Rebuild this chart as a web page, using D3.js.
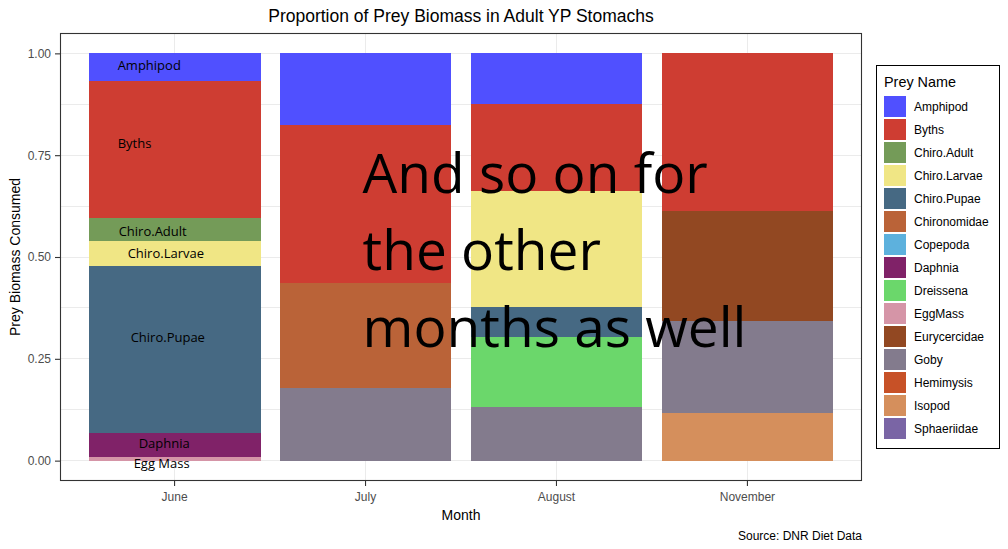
<!DOCTYPE html>
<html>
<head>
<meta charset="utf-8">
<script src="https://cdn.jsdelivr.net/npm/d3@7"></script>
<style>
  html, body { margin: 0; padding: 0; background: #ffffff; }
  svg { display: block; }
</style>
</head>
<body>
<script>
// ---------------- DATA ----------------
const months = ["June", "July", "August", "November"];
const preyNames = ["Amphipod", "Byths", "Chiro.Adult", "Chiro.Larvae", "Chiro.Pupae",
  "Chironomidae", "Copepoda", "Daphnia", "Dreissena", "EggMass",
  "Eurycercidae", "Goby", "Hemimysis", "Isopod", "Sphaeriidae"];
const preyColors = ["#5050FF", "#CE3D32", "#749B58", "#F0E685", "#466983",
  "#BA6338", "#5DB1DD", "#802268", "#6BD76B", "#D595A7",
  "#924822", "#837B8D", "#C75127", "#D58F5C", "#7A65A5"];
// proportions per month, aligned with preyNames
const juneValues     = [0.069, 0.336, 0.0545, 0.0615, 0.412, 0, 0, 0.059, 0, 0.008, 0, 0, 0, 0, 0];
const julyValues     = [0.177, 0.386, 0, 0, 0, 0.258, 0, 0, 0, 0, 0, 0.179, 0, 0, 0];
const augustValues   = [0.125, 0.214, 0, 0.283, 0.075, 0, 0, 0, 0.172, 0, 0, 0.131, 0, 0, 0];
const novemberValues = [0, 0.386, 0, 0, 0, 0, 0, 0, 0, 0, 0.270, 0.228, 0, 0.116, 0];
const yTicks = [0, 0.25, 0.5, 0.75, 1];
const yMinorTicks = [0.125, 0.375, 0.625, 0.875];
// annotation labels on the June bar (text, y position in data units)
const juneLabelText = ["Amphipod", "Byths", "Chiro.Adult", "Chiro.Larvae", "Chiro.Pupae", "Daphnia", "Egg Mass"];
const juneLabelY    = [0.971, 0.780, 0.563, 0.508, 0.303, 0.043, -0.007];
const juneLabelDx   = [29, 29, 30, 39, 42, 50, 45];
const noteLines = ["And so on for", "the other", "months as well"];
const noteY = [0.657, 0.4686, 0.2784];

const titleText = "Proportion of Prey Biomass in Adult YP Stomachs";
const xTitle = "Month";
const yTitle = "Prey Biomass Consumed";
const legendTitle = "Prey Name";
const caption = "Source: DNR Diet Data";

// ---------------- LAYOUT ----------------
const W = 1008, H = 549;
const panel = { left: 60, right: 862, top: 33, bottom: 481 };
const FONT = "Arial, 'Liberation Sans', Helvetica, sans-serif";

const svg = d3.select("body").append("svg")
  .attr("width", W).attr("height", H)
  .style("background", "#fff");

const x = d3.scaleBand().domain(months)
  .range([panel.left, panel.right])
  .paddingInner(0.1).paddingOuter(0.15);
const y = d3.scaleLinear().domain([-0.05, 1.05]).range([panel.bottom, panel.top]);
const color = d3.scaleOrdinal().domain(preyNames).range(preyColors);

const valuesByMonth = [juneValues, julyValues, augustValues, novemberValues];
const table = months.map((m, i) => {
  const row = { month: m };
  preyNames.forEach((p, j) => row[p] = valuesByMonth[i][j]);
  return row;
});

// grid
const grid = svg.append("g").attr("shape-rendering", "crispEdges");
grid.selectAll("line.minor").data(yMinorTicks).join("line")
  .attr("x1", panel.left).attr("x2", panel.right)
  .attr("y1", d => y(d)).attr("y2", d => y(d))
  .attr("stroke", "#ebebeb").attr("stroke-width", 1);
grid.selectAll("line.major").data(yTicks).join("line")
  .attr("x1", panel.left).attr("x2", panel.right)
  .attr("y1", d => y(d)).attr("y2", d => y(d))
  .attr("stroke", "#ebebeb").attr("stroke-width", 1);
grid.selectAll("line.vmajor").data(months).join("line")
  .attr("x1", d => x(d) + x.bandwidth() / 2).attr("x2", d => x(d) + x.bandwidth() / 2)
  .attr("y1", panel.top).attr("y2", panel.bottom)
  .attr("stroke", "#ebebeb").attr("stroke-width", 1);

// stacked bars (first prey on top, as in ggplot)
const series = d3.stack().keys(preyNames).order(d3.stackOrderReverse)(table);
svg.append("g").attr("shape-rendering", "crispEdges").selectAll("g").data(series).join("g")
  .attr("fill", d => color(d.key))
  .selectAll("rect").data(d => d).join("rect")
  .attr("x", d => x(d.data.month))
  .attr("width", x.bandwidth())
  .attr("y", d => y(d[1]))
  .attr("height", d => Math.max(0, y(d[0]) - y(d[1])));

// panel border
svg.append("rect")
  .attr("x", panel.left + 0.5).attr("y", panel.top + 0.5)
  .attr("width", panel.right - panel.left - 1).attr("height", panel.bottom - panel.top - 1)
  .attr("fill", "none").attr("stroke", "#333333").attr("stroke-width", 1.1);

// axes
const yAxis = svg.append("g").attr("transform", `translate(${panel.left},0)`)
  .call(d3.axisLeft(y).tickValues(yTicks).tickFormat(d3.format(".2f")).tickSize(5).tickPadding(4));
const xAxis = svg.append("g").attr("transform", `translate(0,${panel.bottom})`)
  .call(d3.axisBottom(x).tickSize(5).tickPadding(6));
[yAxis, xAxis].forEach(a => {
  a.select(".domain").remove();
  a.selectAll(".tick line").attr("stroke", "#333333").attr("stroke-width", 1.1);
  a.selectAll(".tick text").attr("fill", "#4d4d4d").style("font-family", FONT).style("font-size", "12px");
});

// titles
svg.append("text").attr("x", (panel.left + panel.right) / 2).attr("y", 22)
  .attr("text-anchor", "middle").style("font-family", FONT).style("font-size", "17.5px")
  .attr("fill", "#000").text(titleText);
svg.append("text").attr("x", (panel.left + panel.right) / 2).attr("y", 520)
  .attr("text-anchor", "middle").style("font-family", FONT).style("font-size", "14px")
  .attr("fill", "#000").text(xTitle);
svg.append("text").attr("transform", `translate(20,${(panel.top + panel.bottom) / 2}) rotate(-90)`)
  .attr("text-anchor", "middle").style("font-family", FONT).style("font-size", "14px")
  .attr("fill", "#000").text(yTitle);
svg.append("text").attr("x", panel.right).attr("y", 540)
  .attr("text-anchor", "end").style("font-family", FONT).style("font-size", "12px")
  .attr("fill", "#000").text(caption);

// legend
const lg = svg.append("g");
lg.append("rect").attr("x", 876.5).attr("y", 65.5).attr("width", 123).attr("height", 383)
  .attr("fill", "#fff").attr("stroke", "#000").attr("stroke-width", 1);
lg.append("text").attr("x", 884).attr("y", 87).style("font-family", FONT).style("font-size", "14.4px")
  .attr("fill", "#000").text(legendTitle);
const items = lg.selectAll("g.item").data(preyNames).join("g")
  .attr("transform", (d, i) => `translate(884,${96 + i * 23})`);
items.append("rect").attr("width", 22).attr("height", 21).attr("fill", d => color(d))
  .attr("shape-rendering", "crispEdges");
items.append("text").attr("x", 30).attr("y", 11).attr("dy", "0.35em")
  .style("font-family", FONT).style("font-size", "12px").attr("fill", "#000").text(d => d);

// June annotations
const juneX = x("June");
svg.append("g").selectAll("text").data(juneLabelText).join("text")
  .attr("x", (d, i) => juneX + juneLabelDx[i])
  .attr("y", (d, i) => y(juneLabelY[i]))
  .attr("dy", "0.35em")
  .style("font-family", "'Open Sans', sans-serif").style("font-size", "13px")
  .attr("fill", "#000").text(d => d);

// big note
svg.append("g").selectAll("text").data(noteLines).join("text")
  .attr("x", x("July") + 83)
  .attr("y", (d, i) => y(noteY[i]))
  .style("font-family", "'Open Sans', sans-serif").style("font-size", "55px")
  .attr("fill", "#000").text(d => d);
</script>
</body>
</html>
